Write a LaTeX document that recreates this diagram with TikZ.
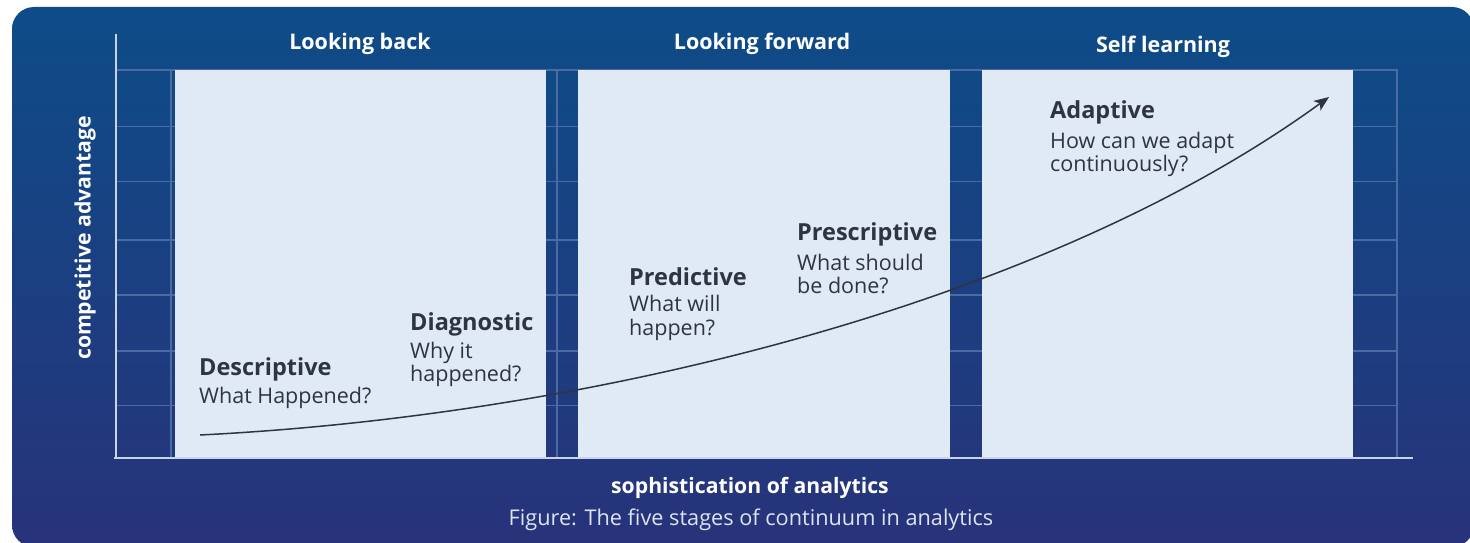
\documentclass[tikz,border=0pt]{standalone}
\usepackage{fontspec}
\setmainfont{Open Sans}
\usetikzlibrary{arrows.meta}
\definecolor{bgtop}{HTML}{0D4C88}
\definecolor{bgbot}{HTML}{28337A}
\definecolor{panelc}{HTML}{E0EAF4}
\definecolor{ink}{HTML}{2E3440}
\definecolor{gridc}{HTML}{4A6CA4}
\definecolor{axisc}{HTML}{C9D3EA}
\definecolor{capc}{HTML}{DDE3EF}
\tikzset{
  gridline/.style={draw=gridc, line width=1.2pt},
  axisline/.style={draw=axisc, line width=1.6pt},
  panelbox/.style={fill=panelc},
  headtxt/.style={font=\bfseries\fontsize{21.5}{25}\selectfont, text=white, inner sep=0pt, anchor=base},
  titletxt/.style={font=\bfseries\fontsize{23.5}{27}\selectfont, text=ink, inner sep=0pt, anchor=base west},
  bodytxt/.style={font=\fontsize{21.5}{25}\selectfont, text=ink, inner sep=0pt, anchor=base west},
  curveline/.style={draw=ink, line width=1.5pt, -{Stealth[length=15pt,width=12pt,inset=4pt]}}
}
\begin{document}
\begin{tikzpicture}[x=1pt,y=-1pt]
\useasboundingbox (0,0) rectangle (1470,543);
\begin{scope}
\clip (0,0) rectangle (1470,543);
\shade[top color=bgtop, bottom color=bgbot, rounded corners=22pt] (12,7) rectangle (1474,547);
\end{scope}
% grid
\foreach \yy in {70,126.7,181.7,240,295,351,405.7}
  \draw[gridline] (116,\yy) -- (1398,\yy);
\foreach \xx in {171,557,1397}
  \draw[gridline] (\xx,70) -- (\xx,458);
% panels
\fill[panelbox] (175,70) rectangle (546,458);
\fill[panelbox] (578,70) rectangle (950,458);
\fill[panelbox] (982,70) rectangle (1353,458);
% axes
\draw[axisline] (116,34) -- (116,458);
\draw[axisline] (114,458) -- (1413,458);
% headers
\node[headtxt] (h1) at (360,50) {Looking back};
\node[headtxt] (h2) at (762,50) {Looking forward};
\node[headtxt] (h3) at (1163,53) {Self learning};
% axis labels
\node[font=\bfseries\fontsize{21.2}{25}\selectfont, text=white, inner sep=0pt, rotate=90] (ylab) at (85,238) {competitive advantage};
\node[font=\bfseries\fontsize{21.2}{25}\selectfont, text=white, inner sep=0pt, anchor=base] (xlab) at (750,493) {sophistication of analytics};
\node[font=\fontsize{21.7}{25}\selectfont, text=capc, inner sep=0pt, anchor=base] (cap) at (751,525) {Figure: The five stages of continuum in analytics};
% stages
\node[titletxt] (t1) at (199,375) {Descriptive};
\node[bodytxt] (b1) at (199,403) {What Happened?};
\node[titletxt] (t2) at (410,330) {Diagnostic};
\node[bodytxt] (b2a) at (410,358) {Why it};
\node[bodytxt] (b2b) at (410,381) {happened?};
\node[titletxt] (t3) at (629,285) {Predictive};
\node[bodytxt] (b3a) at (629,311.7) {What will};
\node[bodytxt] (b3b) at (629,335) {happen?};
\node[titletxt] (t4) at (797,240) {Prescriptive};
\node[bodytxt] (b4a) at (797,270) {What should};
\node[bodytxt] (b4b) at (797,293.3) {be done?};
\node[titletxt] (t5) at (1050,118.5) {Adaptive};
\node[bodytxt] (b5a) at (1050,148.3) {How can we adapt};
\node[bodytxt] (b5b) at (1050,171.7) {continuously?};
% curve
\coordinate (cs) at (200,435);
\coordinate (ce) at (1329,97);
\draw[curveline] (cs) .. controls (600,415) and (1050,300) .. (ce);
\end{tikzpicture}
\end{document}
